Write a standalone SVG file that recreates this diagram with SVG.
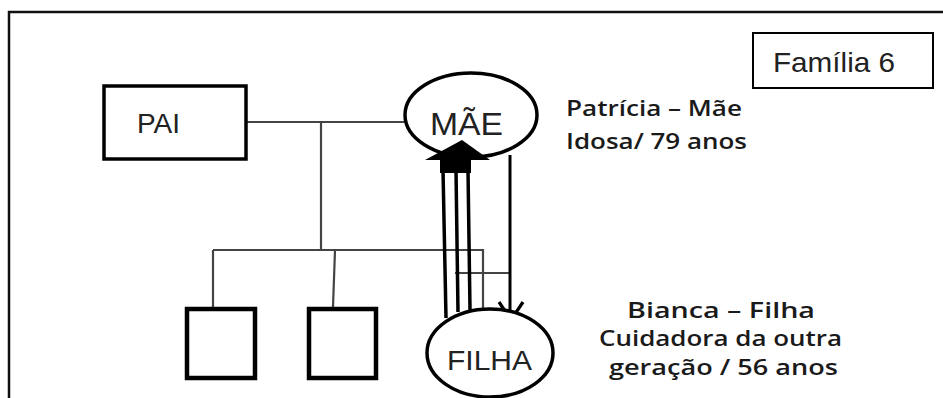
<svg xmlns="http://www.w3.org/2000/svg" width="943" height="398" viewBox="0 0 943 398">
<style>
.frame{fill:none;stroke:#111;stroke-width:2.5}
.node{fill:#fff;stroke:#000}
.thin{fill:none;stroke:#444;stroke-width:2.2}
.thick{fill:none;stroke:#000;stroke-width:3.5}
.lbl{font-family:"Liberation Sans",Arial,sans-serif;fill:#222}
.note{font-family:"Open Sans","Noto Sans",sans-serif;fill:#1a1a1a;font-weight:600}
</style>
<rect width="943" height="398" fill="#fff"/>
<path class="frame" d="M9,398 V12 H943"/>
<g id="familia">
<rect x="753" y="33" width="180" height="55" fill="#fff" stroke="#000" stroke-width="2"/>
<text class="lbl" x="773" y="72" font-size="28" textLength="122" lengthAdjust="spacingAndGlyphs">Família 6</text>
</g>
<g id="connectors">
<path class="thin" d="M246,122 H404"/>
<path class="thin" d="M321,122 V250"/>
<path class="thin" d="M213,250 H483 V309"/>
<path class="thin" d="M213,250 V307"/>
<path class="thin" d="M335,250 L333,307"/>
<path class="thin" d="M455,273 H510"/>
<path class="thick" d="M443,170 L446,318"/>
<path class="thick" d="M456,170 L458,312"/>
<path class="thick" d="M468,170 L470,310"/>
<path d="M510,155 V318" fill="none" stroke="#000" stroke-width="3"/>
<path d="M499,302 L511,320 L523,302" fill="none" stroke="#000" stroke-width="3.2"/>
</g>
<g id="pai">
<rect class="node" x="104" y="86" width="142" height="73" stroke-width="3.5"/>
<text class="lbl" x="137" y="133" font-size="28">PAI</text>
</g>
<g id="mae">
<ellipse class="node" cx="471" cy="115" rx="66" ry="42" stroke-width="3.5"/>
<text class="lbl" x="430" y="135" font-size="31" textLength="73" lengthAdjust="spacingAndGlyphs">MÃE</text>
<path d="M462,140 L425,160 L440,160 L440,173 L471,173 L471,160 L490,160 Z" fill="#000"/>
</g>
<g id="filha">
<ellipse class="node" cx="490" cy="353" rx="63" ry="44" stroke-width="3.5"/>
<text class="lbl" x="447" y="370" font-size="28" textLength="85" lengthAdjust="spacingAndGlyphs">FILHA</text>
</g>
<g id="filho1">
<rect class="node" x="187" y="309" width="68" height="69" stroke-width="4.5"/>
</g>
<g id="filho2">
<rect class="node" x="309" y="309" width="67" height="69" stroke-width="4.5"/>
</g>
<g id="nota-mae">
<text class="note" x="566" y="116" font-size="22" textLength="176" lengthAdjust="spacingAndGlyphs">Patrícia – Mãe</text>
<text class="note" x="566" y="149" font-size="22" textLength="181" lengthAdjust="spacingAndGlyphs">Idosa/ 79 anos</text>
</g>
<g id="nota-filha">
<text class="note" x="627" y="318" font-size="21" textLength="188" lengthAdjust="spacingAndGlyphs">Bianca – Filha</text>
<text class="note" x="599" y="346" font-size="21" textLength="243" lengthAdjust="spacingAndGlyphs">Cuidadora da outra</text>
<text class="note" x="609" y="375" font-size="21" textLength="229" lengthAdjust="spacingAndGlyphs">geração / 56 anos</text>
</g>
</svg>
